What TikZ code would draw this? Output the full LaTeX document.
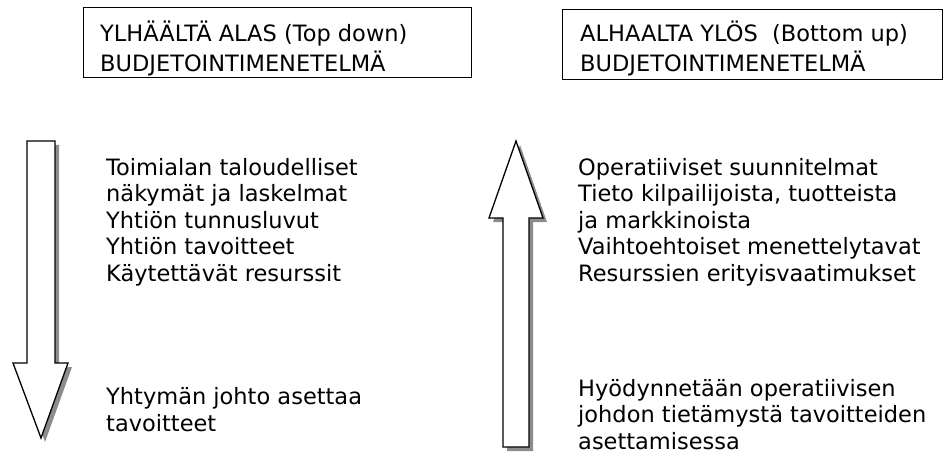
\documentclass[tikz,border=0pt]{standalone}
\usepackage{fontspec}
\setmainfont{DejaVu Sans}
\begin{document}
\begin{tikzpicture}[x=1pt,y=-1pt,
  txt/.style={anchor=base west,align=left,inner sep=0pt,font=\fontsize{22.5}{26.5}\selectfont},
  head/.style={anchor=base west,align=left,inner sep=0pt,font=\fontsize{22.5}{30}\selectfont},
  frame/.style={line width=1pt},
  arr/.style={draw,line width=1.3pt,fill=white,line join=miter},
  shad/.style={fill=black!45,draw=none}]
\useasboundingbox (0,0) rectangle (944,457);
% header boxes
\draw[frame] (83,8) rectangle (471,78);
\node[head] (h1) at (100,72) {YLHÄÄLTÄ ALAS (Top down)\\BUDJETOINTIMENETELMÄ};
\draw[frame] (562,10) rectangle (942,80);
\node[head] (h2) at (580,72) {ALHAALTA YLÖS\ \ (Bottom up)\\BUDJETOINTIMENETELMÄ};
% down arrow
\fill[shad,shift={(4,4)}] (27,141) -- (55,141) -- (55,363) -- (68,363) -- (41,438) -- (13,363) -- (27,363) -- cycle;
\draw[arr] (27,141) -- (55,141) -- (55,363) -- (68,363) -- (41,438) -- (13,363) -- (27,363) -- cycle;
% up arrow
\fill[shad,shift={(4,4)}] (516,141) -- (543,218) -- (529,218) -- (529,447) -- (503,447) -- (503,218) -- (489,218) -- cycle;
\draw[arr] (516,141) -- (543,218) -- (529,218) -- (529,447) -- (503,447) -- (503,218) -- (489,218) -- cycle;
% texts
\node[txt] (l1) at (106,281) {Toimialan taloudelliset\\näkymät ja laskelmat\\Yhtiön tunnusluvut\\Yhtiön tavoitteet\\Käytettävät resurssit};
\node[txt] (l2) at (106,431) {Yhtymän johto asettaa\\tavoitteet};
\node[txt] (r1) at (578,281) {Operatiiviset suunnitelmat\\Tieto kilpailijoista, tuotteista\\ja markkinoista\\Vaihtoehtoiset menettelytavat\\Resurssien erityisvaatimukset};
\node[txt] (r2) at (578,449) {Hyödynnetään operatiivisen\\johdon tietämystä tavoitteiden\\asettamisessa};
\end{tikzpicture}
\end{document}
